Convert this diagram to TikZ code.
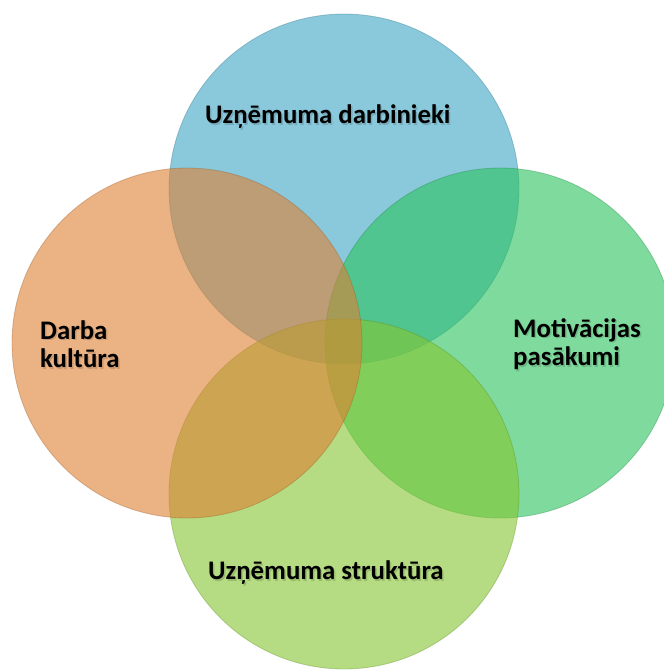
\documentclass[tikz,border=0pt]{standalone}
\usepackage{fontspec}
\setmainfont{Carlito}
\definecolor{cblue}{RGB}{60,165,195}
\definecolor{corange}{RGB}{222,128,50}
\definecolor{cgreen}{RGB}{43,195,93}
\definecolor{clime}{RGB}{132,198,47}
\tikzset{
  venn/.style={circle, minimum size=350pt, inner sep=0pt, fill=#1, fill opacity=0.6,
               draw=#1!70!black, draw opacity=0.35, line width=0.8pt},
  lbl/.style={font=\fontsize{26.8}{28.5}\selectfont\bfseries, text=black, inner sep=0pt, align=left},
  lblshadow/.style={lbl, text=black, text opacity=0.15}
}
\begin{document}
\begin{tikzpicture}[x=1pt, y=-1pt]
  \useasboundingbox (0,0) rectangle (664,670);
  \fill[white] (0,0) rectangle (664,670);
  % the four overlapping sets, drawn back to front
  \node[venn=cblue]   (top)    at (344,189) {};
  \node[venn=cgreen]  (right)  at (500,343) {};
  \node[venn=clime]   (bottom) at (344,494) {};
  \node[venn=corange] (left)   at (187,343) {};
  % soft shadows under the labels
  \node[lblshadow, anchor=west] at (206.5,118.5) {Uzņēmuma darbinieki};
  \node[lblshadow, anchor=west] at (41.5,345.5) {Darba\\kultūra};
  \node[lblshadow, anchor=west] at (514.5,345.5) {Motivācijas\\pasākumi};
  \node[lblshadow, anchor=west] at (209.5,574.5) {Uzņēmuma struktūra};
  % labels
  \node[lbl, anchor=west] (ltop)    at (205,117) {Uzņēmuma darbinieki};
  \node[lbl, anchor=west] (lleft)   at (40,344)  {Darba\\kultūra};
  \node[lbl, anchor=west] (lright)  at (513,344) {Motivācijas\\pasākumi};
  \node[lbl, anchor=west] (lbottom) at (208,573) {Uzņēmuma struktūra};
\end{tikzpicture}
\end{document}
